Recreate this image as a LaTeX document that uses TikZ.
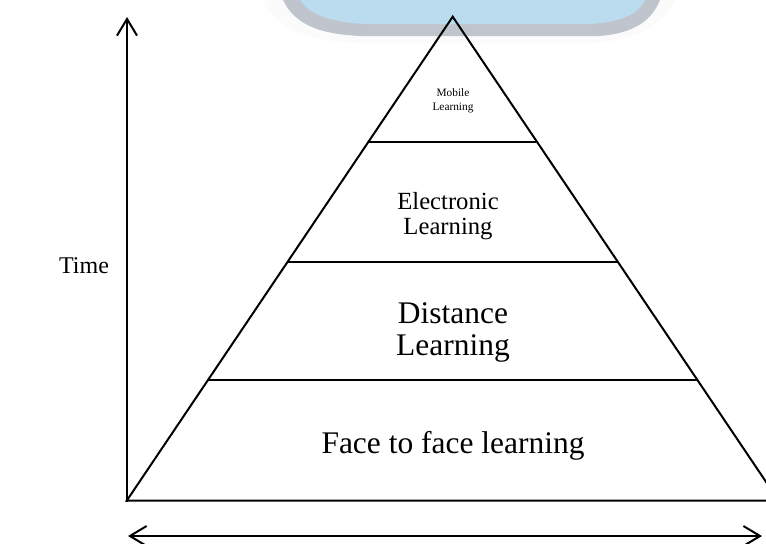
\documentclass[tikz,border=0pt]{standalone}
\usepackage{fontspec}
\setmainfont{Liberation Serif}
\usetikzlibrary{arrows.meta}
\definecolor{bandgray}{RGB}{192,196,204}
\definecolor{bandblue}{RGB}{186,220,238}
\tikzset{
  px/.style={x=0.75pt,y=-0.75pt},
  edge/.style={line width=1.5pt,line join=miter},
  axis/.style={line width=1.5pt,-{Straight Barb[length=12.5pt,width=15pt,line width=1.5pt]}},
  baxis/.style={line width=1.5pt,{Straight Barb[length=12.5pt,width=15pt,line width=1.5pt]}-{Straight Barb[length=12.5pt,width=15pt,line width=1.5pt]}},
  lbl/.style={align=center,inner sep=0pt,font=#1},
}
\begin{document}
\begin{tikzpicture}[px]
\useasboundingbox (0,0) rectangle (766,543);
\begin{scope}
\clip (0,0) rectangle (766,543);
% blurred band at the top
\fill[white!94!bandgray] (262,0) .. controls (278,32) and (318,42) .. (360,43) -- (592,43) .. controls (632,41) and (664,26) .. (676,0) -- cycle;
\fill[bandgray] (283,0) .. controls (295,25) and (320,34) .. (360,36) -- (600,36) .. controls (635,33) and (652,20) .. (660,0) -- cycle;
\fill[bandblue] (300,0) .. controls (310,15) and (330,22) .. (365,24) -- (590,24) .. controls (625,22) and (640,12) .. (645,0) -- cycle;
% pyramid
\coordinate (A) at (452.7,16.7);
\coordinate (L) at (126.7,500.7);
\coordinate (R) at (778.7,500.7);
\draw[edge] (L) -- (A) -- (R) -- cycle;
\coordinate (m1) at (369.0,141.7);
\coordinate (m2) at (536.4,141.7);
\coordinate (e1) at (288.2,261.7);
\coordinate (e2) at (617.2,261.7);
\coordinate (d1) at (208.0,380.0);
\coordinate (d2) at (697.4,380.0);
\draw[edge] (m1) -- (m2);
\draw[edge] (e1) -- (e2);
\draw[edge] (d1) -- (d2);
\end{scope}
% axes
\coordinate (yb) at (127,501.5);
\coordinate (yt) at (127,17);
\draw[axis] (yb) -- (yt);
\coordinate (xl) at (128,536);
\coordinate (xr) at (762,536);
\draw[baxis] (xl) -- (xr);
% labels
\node[lbl={\fontsize{8.5}{10.5}\selectfont}] (mob) at (453,101) {Mobile\\Learning};
\node[lbl={\fontsize{18.5}{19}\selectfont}] (ele) at (448,216) {Electronic\\Learning};
\node[lbl={\fontsize{23.6}{24}\selectfont}] (dis) at (453,332) {Distance\\Learning};
\node[lbl={\fontsize{23.6}{24}\selectfont}] (fac) at (453,446) {Face to face learning};
\node[lbl={\fontsize{18}{19}\selectfont}] (tim) at (84,266) {Time};
\end{tikzpicture}
\end{document}
